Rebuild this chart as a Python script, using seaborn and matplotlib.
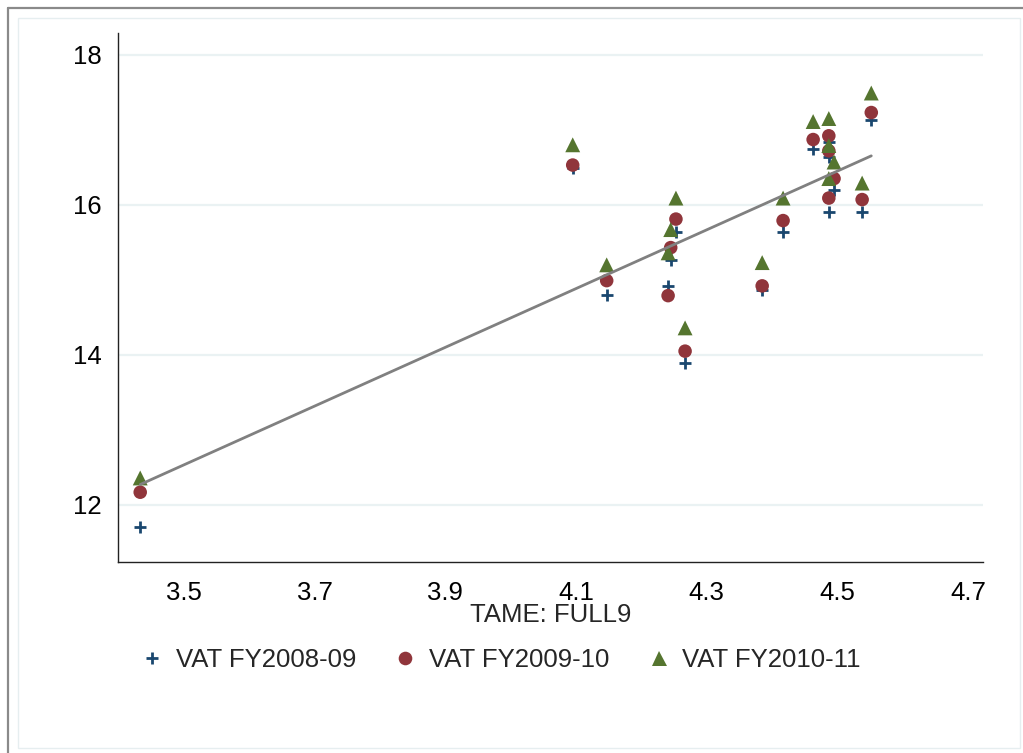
import numpy as np
import pandas as pd
import matplotlib
matplotlib.use("Agg")
import matplotlib.pyplot as plt
from matplotlib.lines import Line2D
from matplotlib.patches import Rectangle
import seaborn as sns

# ---- data ----
tame = [3.433, 4.095, 4.147, 4.253, 4.245, 4.241, 4.267, 4.385, 4.417,
        4.463, 4.487, 4.487, 4.495, 4.487, 4.538, 4.552]
vat_0809 = [11.70, 16.49, 14.80, 15.64, 15.27, 14.92, 13.89, 14.87, 15.64,
            16.75, 16.84, 16.64, 16.20, 15.91, 15.91, 17.13]
vat_0910 = [12.17, 16.53, 14.99, 15.81, 15.43, 14.79, 14.05, 14.92, 15.79,
            16.87, 16.92, 16.72, 16.35, 16.09, 16.07, 17.23]
vat_1011 = [12.36, 16.80, 15.20, 16.09, 15.67, 15.36, 14.36, 15.23, 16.09,
            17.11, 17.15, 16.79, 16.57, 16.35, 16.29, 17.49]
series_names = ["VAT FY2008-09", "VAT FY2009-10", "VAT FY2010-11"]
x_ticks = [3.5, 3.7, 3.9, 4.1, 4.3, 4.5, 4.7]
y_ticks = [12, 14, 16, 18]

long = pd.DataFrame({
    "x": tame * 3,
    "y": vat_0809 + vat_0910 + vat_1011,
    "series": sum([[n] * len(tame) for n in series_names], []),
})

sns.set_style("white")
plt.rcParams["font.family"] = ["Liberation Sans", "DejaVu Sans"]

W, H = 1023, 753
fig = plt.figure(figsize=(W / 100, H / 100), dpi=100)

# frames
fig.add_artist(Line2D([8 / W, 8 / W], [0, 1 - 8 / H], transform=fig.transFigure,
                      color="#8a8a8a", lw=1.6))
fig.add_artist(Line2D([8 / W, 1.0], [1 - 8 / H, 1 - 8 / H], transform=fig.transFigure,
                      color="#8a8a8a", lw=1.6))
fig.add_artist(Rectangle((18 / W, 1 - 748 / H), (1020 - 18) / W, (748 - 18) / H,
                         transform=fig.transFigure, fill=False,
                         edgecolor="#e6eef0", lw=1.0))

ax = fig.add_axes([118 / W, 1 - 562 / H, (983 - 118) / W, (562 - 33) / H])
ax.set_facecolor("white")

c_plus, c_circ, c_tri, c_line = "#1a476f", "#90353b", "#55752f", "#808080"

sns.scatterplot(x=tame, y=vat_0809, marker="+", s=70, color=c_plus,
                linewidth=2.0, ax=ax, zorder=3)
sns.scatterplot(x=tame, y=vat_0910, marker="o", s=95, color=c_circ,
                edgecolor="none", ax=ax, zorder=4)
sns.scatterplot(x=tame, y=vat_1011, marker="^", s=115, color=c_tri,
                edgecolor="none", ax=ax, zorder=5)
sns.regplot(data=long, x="x", y="y", scatter=False, ci=None, truncate=True,
            line_kws=dict(color=c_line, lw=2.0, zorder=6), ax=ax)

ax.set_xlim(3.399, 4.723)
ax.set_ylim(11.24, 18.29)
ax.set_xticks(x_ticks)
ax.set_xticklabels([f"{v:.1f}" for v in x_ticks])
ax.set_yticks(y_ticks)
ax.set_yticklabels([str(v) for v in y_ticks])

ax.grid(False)
ax.yaxis.grid(True, color="#eaf2f3", lw=1.6)
ax.set_axisbelow(True)
for s in ["top", "right"]:
    ax.spines[s].set_visible(False)
for s in ["left", "bottom"]:
    ax.spines[s].set_color("#222222")
    ax.spines[s].set_linewidth(1.0)

ax.tick_params(axis="both", direction="out", length=7, width=0.9,
               color="#222222", labelsize=18.5, labelcolor="black")
ax.tick_params(axis="x", pad=6.5)
ax.tick_params(axis="y", pad=4.5)

ax.set_xlabel("TAME: FULL9", fontsize=18.5, labelpad=-1)
ax.set_ylabel("")

handles = [
    Line2D([], [], marker="+", color=c_plus, linestyle="none", markersize=8.5,
           markeredgewidth=2.0),
    Line2D([], [], marker="o", color=c_circ, linestyle="none", markersize=9.8,
           markeredgewidth=0),
    Line2D([], [], marker="^", color=c_tri, linestyle="none", markersize=10.8,
           markeredgewidth=0),
]
fig.legend(handles, series_names, loc="center", bbox_to_anchor=(500 / W, 1 - 660 / H),
           ncol=3, frameon=False, fontsize=18.5, handlelength=1.0,
           handletextpad=0.42, columnspacing=1.42)

fig.savefig("out.png", dpi=100, facecolor="white")
